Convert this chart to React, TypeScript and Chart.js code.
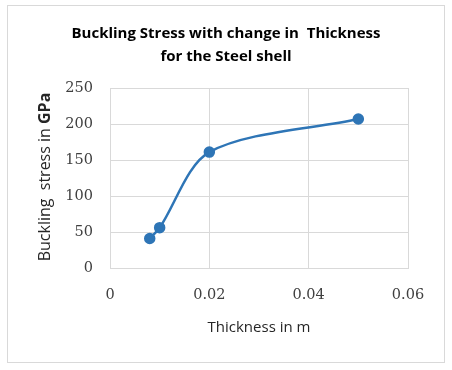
import React, { useEffect, useRef } from "react";
import { Chart, registerables } from "chart.js";

Chart.register(...registerables);

const thickness = [0.008, 0.01, 0.02, 0.05];
const stress = [41, 56, 161, 207];
const titleLines = ["Buckling Stress with change in  Thickness", "for the Steel shell"];
const xTitle = "Thickness in m";
const yTitleNormal = "Buckling  stress in ";
const yTitleBold = "GPa";

const SANS = "'Open Sans', 'Liberation Sans', sans-serif";
const SERIF = "'DejaVu Serif', serif";

const decorPlugin = {
  id: "decor",
  afterDraw(chart: any) {
    const ctx = chart.ctx;
    ctx.save();
    ctx.strokeStyle = "#d9d9d9";
    ctx.lineWidth = 1;
    ctx.strokeRect(7.5, 5.5, 437, 357);

    ctx.fillStyle = "#000000";
    ctx.font = `bold 15px ${SANS}`;
    ctx.textAlign = "center";
    ctx.textBaseline = "middle";
    ctx.fillText(titleLines[0], 226, 34);
    ctx.fillText(titleLines[1], 226, 57);

    ctx.fillStyle = "#262626";
    ctx.font = `15px ${SANS}`;
    ctx.fillText(xTitle, 259, 328);

    ctx.translate(45, 177);
    ctx.rotate(-Math.PI / 2);
    ctx.font = `16px ${SANS}`;
    const w1 = ctx.measureText(yTitleNormal).width;
    ctx.font = `bold 16px ${SANS}`;
    const w2 = ctx.measureText(yTitleBold).width;
    const start = -(w1 + w2) / 2;
    ctx.textAlign = "left";
    ctx.font = `16px ${SANS}`;
    ctx.fillText(yTitleNormal, start, 0);
    ctx.font = `bold 16px ${SANS}`;
    ctx.fillText(yTitleBold, start + w1, 0);
    ctx.restore();
  },
};

export default function App() {
  const ref = useRef<HTMLCanvasElement>(null);
  useEffect(() => {
    if (!ref.current) return;
    const chart = new Chart(ref.current, {
      type: "scatter",
      data: {
        datasets: [
          {
            data: thickness.map((x, i) => ({ x, y: stress[i] })),
            showLine: true,
            borderColor: "#2e75b6",
            backgroundColor: "#2e75b6",
            borderWidth: 2.5,
            pointRadius: 4.5,
            tension: 0.3,
          },
        ],
      },
      options: {
        responsive: false,
        animation: false,
        layout: { padding: { left: 0, top: 88, right: 44, bottom: 0 } },
        plugins: { legend: { display: false }, tooltip: { enabled: false }, title: { display: false } },
        scales: {
          x: {
            type: "linear",
            min: 0,
            max: 0.06,
            afterFit: (s: any) => {
              s.height = 102;
            },
            ticks: {
              stepSize: 0.02,
              padding: 19,
              color: "#404040",
              font: { family: SERIF, size: 14.5 },
              callback: (v: any) => String(Math.round(Number(v) * 100) / 100),
            },
            grid: { color: "#d9d9d9", drawTicks: false },
            border: { color: "#d9d9d9" },
          },
          y: {
            min: 0,
            max: 250,
            afterFit: (s: any) => {
              s.width = 110;
            },
            ticks: {
              stepSize: 50,
              padding: 17,
              color: "#404040",
              font: { family: SERIF, size: 14.5 },
            },
            grid: { color: "#d9d9d9", drawTicks: false },
            border: { color: "#d9d9d9" },
          },
        },
      },
      plugins: [decorPlugin],
    } as any);
    return () => chart.destroy();
  }, []);
  return (
    <div style={{ position: "absolute", left: 0, top: 0, width: 452, height: 370, background: "#fff" }}>
      <canvas ref={ref} width={452} height={370} style={{ width: 452, height: 370, display: "block" }} />
    </div>
  );
}
